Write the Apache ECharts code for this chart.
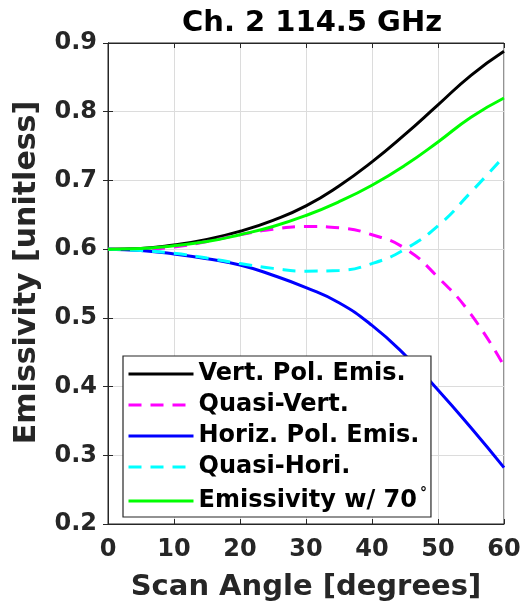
<!DOCTYPE html>
<html>
<head>
<meta charset="utf-8">
<script src="https://cdn.jsdelivr.net/npm/echarts@6/dist/echarts.min.js"></script>
<style>
  html, body { margin: 0; padding: 0; background: #fff; }
  #chart { width: 524px; height: 604px; }
</style>
</head>
<body>
<div id="chart"></div>
<script>
// Scan angles (degrees)
const scanAngles = [0, 5, 10, 15, 20, 25, 30, 35, 40, 45, 50, 55, 60];

// Emissivity curves, Ch. 2 114.5 GHz
const vertPol   = [0.600, 0.601, 0.606, 0.614, 0.626, 0.642, 0.663, 0.692, 0.727, 0.767, 0.810, 0.853, 0.888];
const quasiVert = [0.600, 0.600, 0.603, 0.611, 0.621, 0.629, 0.633, 0.631, 0.621, 0.601, 0.559, 0.505, 0.430];
const horizPol  = [0.600, 0.598, 0.593, 0.586, 0.577, 0.562, 0.544, 0.522, 0.489, 0.446, 0.395, 0.340, 0.282];
const quasiHori = [0.600, 0.598, 0.594, 0.587, 0.579, 0.572, 0.568, 0.569, 0.579, 0.600, 0.634, 0.683, 0.735];
const emis70    = [0.600, 0.601, 0.605, 0.611, 0.621, 0.633, 0.649, 0.669, 0.693, 0.722, 0.756, 0.792, 0.820];

const seriesNames = ['Vert. Pol. Emis.', 'Quasi-Vert.', 'Horiz. Pol. Emis.', 'Quasi-Hori.', 'Emissivity w/ 70'];
const seriesData = [vertPol, quasiVert, horizPol, quasiHori, emis70];
const seriesColors = ['#000000', '#ff00ff', '#0000ff', '#00ffff', '#00ff00'];
const seriesDashed = [false, true, false, true, false];

const FONT = 'DejaVu Sans';
const AX = '#262626';

const pairs = d => scanAngles.map((a, i) => [a, d[i]]);

const series = seriesNames.map((name, k) => ({
  name: name,
  type: 'line',
  data: pairs(seriesData[k]),
  smooth: true,
  symbol: 'none',
  lineStyle: {
    color: seriesColors[k],
    width: 3,
    type: seriesDashed[k] ? [13, 9] : 'solid'
  },
  itemStyle: { color: seriesColors[k] },
  z: 3
}));

const chart = echarts.init(document.getElementById('chart'), null, { renderer: 'canvas' });
chart.setOption({
  backgroundColor: '#ffffff',
  animation: false,
  title: {
    text: 'Ch. 2 114.5 GHz',
    left: 307,
    top: 4,
    textAlign: 'center',
    textStyle: { fontFamily: FONT, fontWeight: 'bold', fontSize: 29, color: '#000' }
  },
  grid: {
    left: 108, top: 43, right: 20, bottom: 80,
    outerBoundsMode: 'none',
    containLabel: false,
    show: true, borderColor: AX, borderWidth: 1
  },
  legend: {
    orient: 'vertical',
    left: 123,
    top: 356,
    padding: [6, 4, 4, 4],
    itemGap: 7,
    itemWidth: 65,
    itemHeight: 14,
    backgroundColor: '#ffffff',
    borderColor: AX,
    borderWidth: 1.2,
    borderRadius: 0,
    itemStyle: { opacity: 0 },
    lineStyle: { width: 3 },
    data: seriesNames,
    formatter: n => n === 'Emissivity w/ 70' ? 'Emissivity w/ 70{sup|°}' : n,
    textStyle: {
      fontFamily: FONT, fontWeight: 'bold', fontSize: 24, color: '#000', padding: [0, 0, 0, 0],
      rich: {
        sup: { fontFamily: FONT, fontSize: 14, color: '#000', verticalAlign: 'top', padding: [0, 0, 16, 3] }
      }
    }
  },
  xAxis: [{
    type: 'value',
    min: 0, max: 60, interval: 10,
    name: 'Scan Angle [degrees]',
    nameLocation: 'middle',
    nameGap: 49,
    nameTextStyle: { fontFamily: FONT, fontWeight: 'bold', fontSize: 29, color: AX },
    axisLine: { show: true, lineStyle: { color: AX, width: 1 } },
    axisTick: { show: true, inside: true, length: 5, lineStyle: { color: AX } },
    axisLabel: { fontFamily: FONT, fontWeight: 'bold', fontSize: 24, color: AX, margin: 14 },
    splitLine: { show: true, lineStyle: { color: '#dcdcdc', width: 1 } }
  }, {
    type: 'value', position: 'top',
    min: 0, max: 60, interval: 10,
    axisLine: { show: true, lineStyle: { color: AX } },
    axisTick: { show: true, inside: true, length: 5, lineStyle: { color: AX } },
    axisLabel: { show: false },
    splitLine: { show: false }
  }],
  yAxis: [{
    type: 'value',
    min: 0.2, max: 0.9, interval: 0.1,
    name: 'Emissivity [unitless]',
    nameLocation: 'middle',
    nameGap: 66,
    nameTextStyle: { fontFamily: FONT, fontWeight: 'bold', fontSize: 30, color: AX, padding: [0, 0, 0, 22] },
    axisLine: { show: true, lineStyle: { color: AX, width: 1 } },
    axisTick: { show: true, inside: true, length: 5, lineStyle: { color: AX } },
    axisLabel: { fontFamily: FONT, fontWeight: 'bold', fontSize: 24, color: AX, margin: 11,
                 formatter: v => v.toFixed(1) },
    splitLine: { show: true, lineStyle: { color: '#dcdcdc', width: 1 } }
  }, {
    type: 'value', position: 'right',
    min: 0.2, max: 0.9, interval: 0.1,
    axisLine: { show: true, lineStyle: { color: AX } },
    axisTick: { show: true, inside: true, length: 5, lineStyle: { color: AX } },
    axisLabel: { show: false },
    splitLine: { show: false }
  }],
  series: series
});
</script>
</body>
</html>
